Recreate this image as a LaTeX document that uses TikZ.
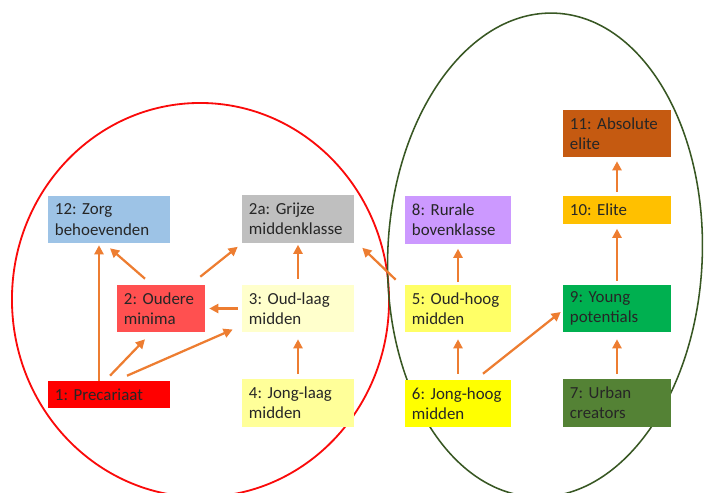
\documentclass[tikz,border=0pt]{standalone}
\usepackage{fontspec}
\setmainfont{Carlito}
\usetikzlibrary{
  arrows.meta,
  calc
}
\frenchspacing
\definecolor{zorgcolor}{RGB}{157,195,230}
\definecolor{grijscolor}{RGB}{191,191,191}
\definecolor{minimacolor}{RGB}{255,80,80}
\definecolor{oudlaagcolor}{RGB}{255,255,204}
\definecolor{preccolor}{RGB}{255,0,0}
\definecolor{jonglaagcolor}{RGB}{255,255,153}
\definecolor{ruralcolor}{RGB}{204,153,255}
\definecolor{oudhoogcolor}{RGB}{255,255,102}
\definecolor{jonghoogcolor}{RGB}{255,255,0}
\definecolor{abscolor}{RGB}{197,90,17}
\definecolor{elitecolor}{RGB}{255,192,0}
\definecolor{youngcolor}{RGB}{0,176,80}
\definecolor{urbancolor}{RGB}{84,130,53}
\definecolor{linkcolor}{RGB}{237,125,49}
\definecolor{redring}{RGB}{250,10,10}
\definecolor{greenring}{RGB}{56,87,35}
\definecolor{labelcolor}{RGB}{38,38,38}

\begin{document}
\begin{tikzpicture}[x=0.025cm, y=-0.025cm,
    >={Triangle[length=6.5pt, width=6.5pt]},
    box/.style={rectangle, fill=#1, text=labelcolor, align=left,
      inner xsep=0.175cm, inner ysep=1pt, font=\fontsize{12}{14.4}\selectfont},
    tall/.style={minimum height=1.175cm},
    flat/.style={minimum height=0.675cm},
    link/.style={->, draw=linkcolor, line width=1.6pt}]

  \useasboundingbox (0,0) rectangle (704,493);

  % -- the two groups --
  \begin{scope}
    \clip (0,0) rectangle (704,493);
    \draw[redring, line width=1.3pt, rotate around={1.5:(200.5,300)}]
      (200.5,300) ellipse [x radius=4.7125cm, y radius=4.925cm];
    \draw[greenring, line width=1.1pt, rotate around={-2.5:(545,255)}]
      (545,255) ellipse [x radius=3.93cm, y radius=6.05cm];
  \end{scope}

  % -- left group --
  \node[box=zorgcolor, tall, text width=2.7cm] (zorg) at (109,219.5) {12: Zorg\\behoevenden};
  \node[box=preccolor, flat, text width=2.7cm] (prec) at (109,394.5) {1: Precariaat};
  \node[box=minimacolor, tall, text width=1.85cm] (minima) at (161,308.5) {2: Oudere\\minima};
  \node[box=grijscolor, tall, text width=2.45cm] (grijs) at (298,219) {2a: Grijze\\middenklasse};
  \node[box=oudlaagcolor, tall, text width=2.45cm] (oudlaag) at (298,308.5) {3: Oud-laag\\midden};
  \node[box=jonglaagcolor, tall, text width=2.45cm] (jonglaag) at (298,403) {4: Jong-laag\\midden};

  % -- right group --
  \node[box=ruralcolor, tall, text width=2.3cm] (rural) at (458,220) {8: Rurale\\bovenklasse};
  \node[box=oudhoogcolor, tall, text width=2.3cm] (oudhoog) at (458,308.5) {5: Oud-hoog\\midden};
  \node[box=jonghoogcolor, tall, text width=2.3cm] (jonghoog) at (458,403.5) {6: Jong-hoog\\midden};
  \node[box=abscolor, tall, text width=2.35cm] (abs) at (617,133.5) {11: Absolute\\elite};
  \node[box=elitecolor, flat, text width=2.35cm] (elite) at (617,210) {10: Elite};
  \node[box=youngcolor, tall, text width=2.35cm] (young) at (617,308.5) {9: Young\\potentials};
  \node[box=urbancolor, tall, text width=2.35cm] (urban) at (617,403) {7: Urban\\creators};

  % -- links --
  \draw[link] ($(prec.north)+(-10,0)$) -- ($(zorg.south)+(-10,2)$);
  \draw[link] ($(prec.north)+(1,-5)$) -- ($(minima.south)+(-16,7)$);
  \draw[link] ($(prec.north)+(18,-5)$) -- ($(oudlaag.west)+(-9,21)$);
  \draw[link] ($(minima.north)+(-16,-6)$) -- ($(zorg.south)+(1,5)$);
  \draw[link] ($(minima.north east)+(-5,-8)$) -- ($(grijs.south west)+(-4,4)$);
  \draw[link] ($(oudlaag.west)+(-4,0)$) -- ($(minima.east)+(4,0)$);
  \draw[link] ($(oudlaag.north)+(0,-6)$) -- ($(grijs.south)+(0,2)$);
  \draw[link] ($(jonglaag.north)+(0,-5)$) -- ($(oudlaag.south)+(0,7)$);
  \draw[link] ($(oudhoog.north west)+(-9,-5)$) -- ($(grijs.south east)+(8,5)$);
  \draw[link] ($(oudhoog.north)+(0,-3)$) -- ($(rural.south)+(0,5)$);
  \draw[link] ($(jonghoog.north)+(0,-6)$) -- ($(oudhoog.south)+(0,7)$);
  \draw[link] ($(jonghoog.north)+(25,-6)$) -- ($(young.west)+(-2,3.5)$);
  \draw[link] ($(urban.north)+(0,-5)$) -- ($(young.south)+(0,7)$);
  \draw[link] ($(young.north)+(0,-4)$) -- ($(elite.south)+(0,5)$);
  \draw[link] ($(elite.north)+(0,-4)$) -- ($(abs.south)+(0,4)$);

\end{tikzpicture}
\end{document}
